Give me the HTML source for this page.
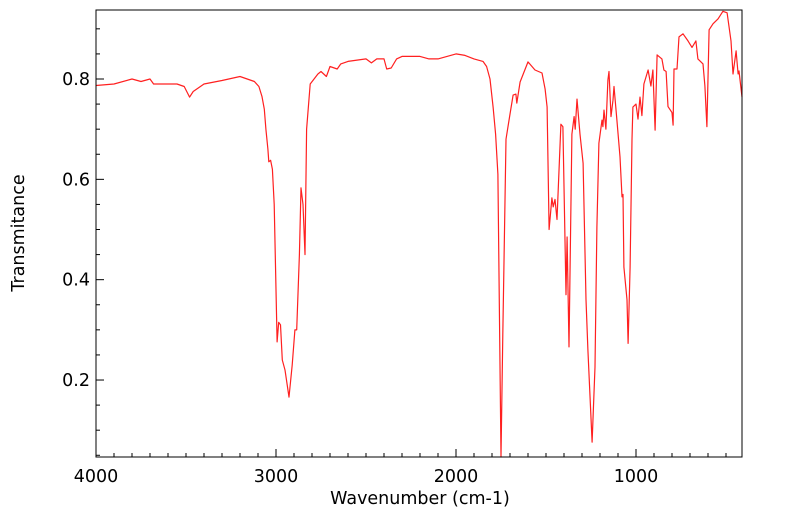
<!DOCTYPE html>
<html><head><meta charset="utf-8"><style>
body{margin:0;background:#fff;}
svg{display:block;font-family:"DejaVu Sans","Liberation Sans",sans-serif;}
</style></head><body>
<svg id="chart" width="799" height="516">
<g id="ticks"></g>
<path id="line" fill="none" stroke="#ff2020" stroke-width="1.2" stroke-linejoin="round"/>
<rect x="96" y="10" width="646" height="447" fill="none" stroke="#000" stroke-width="1"/>
<text x="420" y="504" text-anchor="middle" font-size="17.5">Wavenumber (cm-1)</text>
<text transform="translate(24,233) rotate(-90)" text-anchor="middle" font-size="17.5">Transmitance</text>
</svg>
<script>
const wavenumbers=[4000,3900,3800,3750,3700,3680,3550,3510,3480,3460,3400,3300,3200,3120,3095,3078,3065,3056,3045,3040,3030,3020,3010,2994,2985,2975,2965,2950,2928,2910,2895,2885,2870,2861,2850,2839,2830,2810,2767,2750,2720,2700,2660,2640,2600,2500,2470,2440,2400,2385,2360,2330,2300,2200,2150,2100,2000,1950,1900,1850,1830,1811,1794,1780,1767,1750,1740,1722,1700,1683,1667,1662,1644,1600,1561,1522,1505,1494,1483,1467,1460,1450,1439,1417,1406,1389,1383,1372,1356,1344,1338,1328,1311,1294,1278,1267,1244,1228,1217,1206,1189,1184,1178,1167,1156,1150,1139,1128,1122,1106,1089,1078,1072,1067,1050,1044,1033,1022,1017,1000,989,978,967,956,933,917,906,894,883,856,845,833,822,800,794,789,772,761,739,711,689,667,656,628,617,606,594,572,544,517,494,472,461,444,433,428,411];
const transmittance=[0.787,0.79,0.80,0.795,0.80,0.79,0.79,0.785,0.764,0.775,0.79,0.797,0.805,0.795,0.785,0.765,0.74,0.70,0.66,0.635,0.638,0.62,0.55,0.276,0.315,0.31,0.24,0.22,0.166,0.23,0.30,0.30,0.45,0.583,0.55,0.45,0.70,0.79,0.81,0.815,0.805,0.825,0.82,0.83,0.835,0.84,0.832,0.84,0.84,0.82,0.822,0.84,0.845,0.845,0.84,0.84,0.85,0.847,0.84,0.835,0.825,0.80,0.744,0.69,0.61,0.04,0.29,0.68,0.73,0.768,0.77,0.752,0.794,0.834,0.818,0.812,0.78,0.744,0.50,0.563,0.545,0.56,0.52,0.71,0.705,0.37,0.485,0.266,0.69,0.725,0.70,0.76,0.69,0.632,0.36,0.26,0.076,0.226,0.505,0.672,0.718,0.705,0.738,0.70,0.798,0.815,0.725,0.758,0.785,0.718,0.645,0.565,0.57,0.425,0.36,0.273,0.425,0.68,0.744,0.75,0.72,0.764,0.727,0.79,0.818,0.786,0.818,0.698,0.848,0.84,0.818,0.815,0.745,0.733,0.708,0.82,0.82,0.884,0.89,0.876,0.863,0.876,0.84,0.83,0.786,0.705,0.898,0.91,0.92,0.935,0.932,0.876,0.81,0.856,0.81,0.816,0.764];
const xTicks=[4000,3000,2000,1000];
const yTicks=[0.2,0.4,0.6,0.8];
const NS='http://www.w3.org/2000/svg';
const xs=w=>96+(4000-w)*0.18;
const ys=t=>79+(0.8-t)*501.7;
let d='';
wavenumbers.forEach((w,i)=>{d+=(i?'L':'M')+xs(w).toFixed(1)+','+Math.min(457,Math.max(10,ys(transmittance[i]))).toFixed(1);});
document.getElementById('line').setAttribute('d',d);
const g=document.getElementById('ticks');
function ln(x1,y1,x2,y2){const l=document.createElementNS(NS,'line');l.setAttribute('x1',x1);l.setAttribute('y1',y1);l.setAttribute('x2',x2);l.setAttribute('y2',y2);l.setAttribute('stroke','#000');


g.appendChild(l);}
for(let w=4000;w>=420;w-=100){const major=w%1000===0;ln(xs(w),457,xs(w),major?449:453);}
for(let t=0.05;t<0.94;t+=0.05){const tt=Math.round(t*100)/100;const major=Math.round(tt*100)%20===0;ln(96,ys(tt),major?104:100,ys(tt));}
xTicks.forEach(w=>{const t=document.createElementNS(NS,'text');t.setAttribute('x',xs(w));t.setAttribute('y',482);t.setAttribute('text-anchor','middle');t.setAttribute('font-size','17.5');t.textContent=w;


g.appendChild(t);});
yTicks.forEach(v=>{const t=document.createElementNS(NS,'text');t.setAttribute('x',90);t.setAttribute('y',ys(v)+6);t.setAttribute('text-anchor','end');t.setAttribute('font-size','17.5');t.textContent=v.toFixed(1);


g.appendChild(t);});
</script>
</body></html>
